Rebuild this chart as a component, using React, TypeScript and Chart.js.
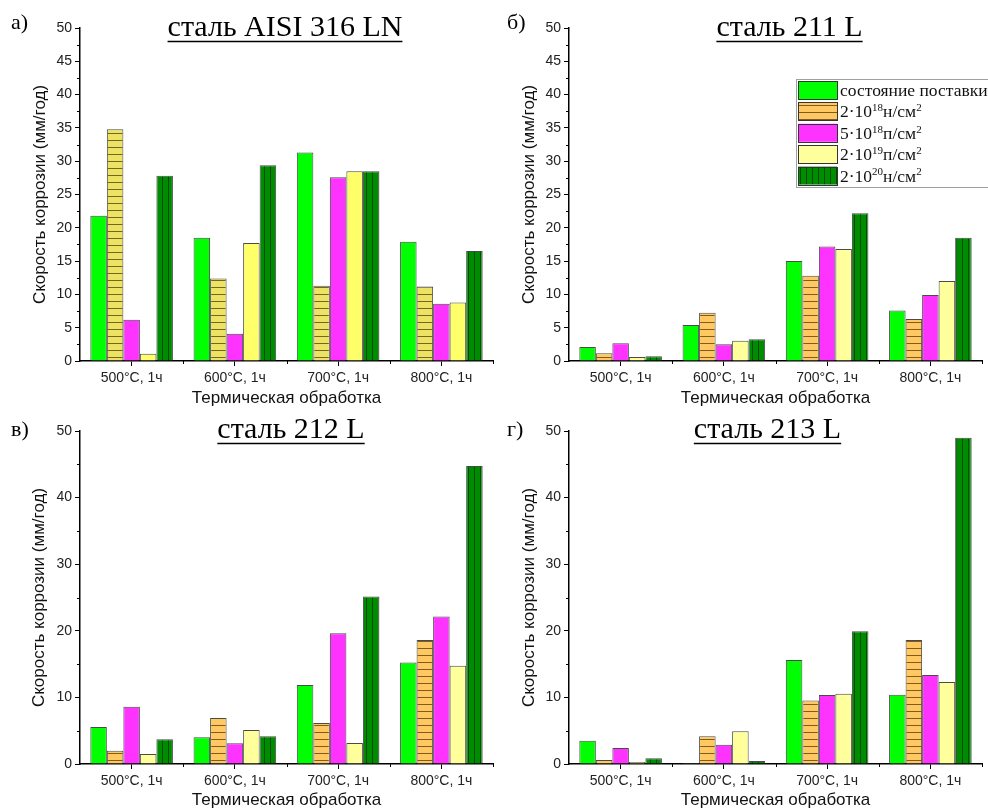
import React, { useEffect, useRef } from 'react';
import { Chart, registerables } from 'chart.js';

Chart.register(...registerables);

// ---------- data ----------
const categories = ['500°C, 1ч', '600°C, 1ч', '700°C, 1ч', '800°C, 1ч'];
const seriesLabels = [
  'состояние поставки',
  '2·10{18}н/см{2}',
  '5·10{18}п/см{2}',
  '2·10{19}п/см{2}',
  '2·10{20}н/см{2}',
];
const yTicksStep5 = [0, 5, 10, 15, 20, 25, 30, 35, 40, 45, 50];
const yTicksStep10 = [0, 10, 20, 30, 40, 50];

// а) сталь AISI 316 LN
const a_asDelivered = [21.8, 18.5, 31.3, 17.9];
const a_2e18 = [34.8, 12.4, 11.3, 11.2];
const a_5e18 = [6.2, 4.1, 27.6, 8.6];
const a_2e19 = [1.1, 17.7, 28.5, 8.8];
const a_2e20 = [27.8, 29.4, 28.5, 16.5];

// б) сталь 211 L
const b_asDelivered = [2.1, 5.4, 15.0, 7.6];
const b_2e18 = [1.15, 7.25, 12.8, 6.3];
const b_5e18 = [2.65, 2.5, 17.2, 9.9];
const b_2e19 = [0.6, 3.05, 16.8, 12.0];
const b_2e20 = [0.7, 3.25, 22.2, 18.5];

// в) сталь 212 L
const v_asDelivered = [5.55, 4.0, 11.85, 15.25];
const v_2e18 = [2.0, 6.9, 6.15, 18.6];
const v_5e18 = [8.6, 3.1, 19.65, 22.15];
const v_2e19 = [1.5, 5.1, 3.15, 14.75];
const v_2e20 = [3.7, 4.15, 25.15, 44.75];

// г) сталь 213 L
const g_asDelivered = [3.5, 0.15, 15.6, 10.4];
const g_2e18 = [0.6, 4.15, 9.55, 18.6];
const g_5e18 = [2.4, 2.9, 10.35, 13.35];
const g_2e19 = [0.3, 4.9, 10.55, 12.3];
const g_2e20 = [0.85, 0.45, 19.95, 49.0];

// ---------- styles ----------
const SANS = '"Liberation Sans", Arial, sans-serif';
const SERIF = '"Liberation Serif", "Times New Roman", serif';

function hatchH(bg: string, line: string, period: number) {
  const c = document.createElement('canvas');
  c.width = 8;
  c.height = period;
  const x = c.getContext('2d')!;
  x.fillStyle = bg;
  x.fillRect(0, 0, 8, period);
  x.fillStyle = line;
  x.fillRect(0, 0, 8, 1);
  return x.createPattern(c, 'repeat')!;
}
function hatchV(bg: string, line: string, period: number) {
  const c = document.createElement('canvas');
  c.width = period;
  c.height = 8;
  const x = c.getContext('2d')!;
  x.fillStyle = bg;
  x.fillRect(0, 0, period, 8);
  x.fillStyle = line;
  x.fillRect(0, 0, 1, 8);
  return x.createPattern(c, 'repeat')!;
}

type Panel = {
  key: string;
  letter: string;
  title: string;
  left: number;
  top: number;
  width: number;
  height: number;
  yWidth: number;
  padTop: number;
  padRight: number;
  xHeight: number;
  yTitlePad: number;
  xTitlePad: number;
  titleX: number;
  titleBaseline: number;
  letterX: number;
  letterBaseline: number;
  yTicks: number[];
  minorStep: number;
  series: number[][];
  c2e18: string;
  c2e19: string;
  legend: boolean;
};

const panels: Panel[] = [
  {
    key: 'a', letter: 'а)', title: 'сталь AISI 316 LN',
    left: 0, top: 0, width: 500, height: 410,
    yWidth: 80, padTop: 28, padRight: 7, xHeight: 49, yTitlePad: 31.5, xTitlePad: 3.5,
    titleX: 285, titleBaseline: 36, letterX: 11, letterBaseline: 29,
    yTicks: yTicksStep5, minorStep: 2.5,
    series: [a_asDelivered, a_2e18, a_5e18, a_2e19, a_2e20],
    c2e18: '#ece364', c2e19: '#ffff6a', legend: false,
  },
  {
    key: 'b', letter: 'б)', title: 'сталь 211 L',
    left: 500, top: 0, width: 488, height: 410,
    yWidth: 69, padTop: 28, padRight: 6, xHeight: 49, yTitlePad: 20.5, xTitlePad: 3.5,
    titleX: 289.5, titleBaseline: 36, letterX: 7, letterBaseline: 29,
    yTicks: yTicksStep5, minorStep: 2.5,
    series: [b_asDelivered, b_2e18, b_5e18, b_2e19, b_2e20],
    c2e18: '#ffc862', c2e19: '#ffff9c', legend: true,
  },
  {
    key: 'v', letter: 'в)', title: 'сталь 212 L',
    left: 0, top: 410, width: 500, height: 399,
    yWidth: 80, padTop: 21, padRight: 7, xHeight: 45, yTitlePad: 30.5, xTitlePad: 0,
    titleX: 291, titleBaseline: 28, letterX: 11, letterBaseline: 26,
    yTicks: yTicksStep10, minorStep: 5,
    series: [v_asDelivered, v_2e18, v_5e18, v_2e19, v_2e20],
    c2e18: '#ffc862', c2e19: '#ffff9c', legend: false,
  },
  {
    key: 'g', letter: 'г)', title: 'сталь 213 L',
    left: 500, top: 410, width: 488, height: 399,
    yWidth: 69, padTop: 21, padRight: 6, xHeight: 45, yTitlePad: 20.5, xTitlePad: 0,
    titleX: 267.5, titleBaseline: 28, letterX: 7, letterBaseline: 26,
    yTicks: yTicksStep10, minorStep: 5,
    series: [g_asDelivered, g_2e18, g_5e18, g_2e19, g_2e20],
    c2e18: '#ffc862', c2e19: '#ffff9c', legend: false,
  },
];

function drawRich(ctx: CanvasRenderingContext2D, text: string, x: number, y: number, size: number) {
  const parts = text.split(/(\{[^}]*\})/);
  let cx = x;
  ctx.textAlign = 'left';
  ctx.textBaseline = 'alphabetic';
  for (const part of parts) {
    if (!part) continue;
    if (part.startsWith('{')) {
      const t = part.slice(1, -1);
      ctx.font = `${Math.round(size * 0.62)}px ${SERIF}`;
      ctx.fillText(t, cx, y - size * 0.36);
      cx += ctx.measureText(t).width;
    } else {
      ctx.font = `${size}px ${SERIF}`;
      ctx.fillText(part, cx, y);
      cx += ctx.measureText(part).width;
    }
  }
}

function makeDecor(p: Panel) {
  return {
    id: 'decor_' + p.key,
    afterDraw(chart: any) {
      const ctx: CanvasRenderingContext2D = chart.ctx;
      const xs = chart.scales.x;
      const ys = chart.scales.y;
      ctx.save();
      ctx.strokeStyle = '#000';
      ctx.lineWidth = 1;
      // minor y ticks
      for (let v = p.minorStep; v < 50; v += p.minorStep * 2) {
        const py = Math.round(ys.getPixelForValue(v)) + 0.5;
        ctx.beginPath();
        ctx.moveTo(ys.right - 3, py);
        ctx.lineTo(ys.right, py);
        ctx.stroke();
      }
      // category boundary ticks
      const n = categories.length;
      const w = (xs.right - xs.left) / n;
      for (let k = 1; k <= n; k++) {
        const px = Math.round(xs.left + k * w) + 0.5;
        ctx.beginPath();
        ctx.moveTo(px, xs.top);
        ctx.lineTo(px, xs.top + 3);
        ctx.stroke();
      }
      // title with underline
      ctx.fillStyle = '#000';
      ctx.font = `30px ${SERIF}`;
      ctx.textAlign = 'center';
      ctx.textBaseline = 'alphabetic';
      ctx.fillText(p.title, p.titleX, p.titleBaseline);
      const tw = ctx.measureText(p.title).width;
      ctx.lineWidth = 1.5;
      ctx.beginPath();
      ctx.moveTo(p.titleX - tw / 2, p.titleBaseline + 5.5);
      ctx.lineTo(p.titleX + tw / 2, p.titleBaseline + 5.5);
      ctx.stroke();
      // panel letter
      ctx.font = `22px ${SERIF}`;
      ctx.textAlign = 'left';
      ctx.fillText(p.letter, p.letterX, p.letterBaseline);
      // legend
      if (p.legend) {
        const bx = 296, by = 79, bw = 200, bh = 108;
        ctx.fillStyle = '#fff';
        ctx.fillRect(bx, by, bw, bh);
        ctx.strokeStyle = '#a0a0a0';
        ctx.lineWidth = 1;
        ctx.strokeRect(bx + 0.5, by + 0.5, bw, bh);
        const ds = chart.data.datasets;
        for (let i = 0; i < ds.length; i++) {
          const sy = 81 + i * 21.4;
          ctx.fillStyle = ds[i].backgroundColor;
          ctx.fillRect(298, sy, 39, 18);
          ctx.strokeStyle = '#333';
          ctx.strokeRect(298.5, Math.round(sy) + 0.5, 39, 18);
          ctx.fillStyle = '#111';
          drawRich(ctx, seriesLabels[i], 340, sy + 15, 17.5);
        }
      }
      ctx.restore();
    },
  };
}

function PanelChart({ p }: { p: Panel }) {
  const ref = useRef<HTMLCanvasElement | null>(null);
  useEffect(() => {
    if (!ref.current) return;
    const fills = [
      '#00ff00',
      hatchH(p.c2e18, 'rgba(70,45,0,0.7)', 7),
      '#ff33ff',
      p.c2e19,
      hatchV('#008c00', 'rgba(0,55,0,0.75)', 6),
    ];
    const chart = new Chart(ref.current, {
      type: 'bar',
      data: {
        labels: categories,
        datasets: p.series.map((vals, i) => ({
          label: seriesLabels[i].replace(/[{}]/g, ''),
          data: vals,
          backgroundColor: fills[i] as any,
          borderColor: '#4a4a4a',
          borderWidth: 1,
          categoryPercentage: 0.8,
          barPercentage: 1.0,
        })),
      },
      options: {
        animation: false,
        responsive: false,
        devicePixelRatio: 1,
        layout: { padding: { top: p.padTop, right: p.padRight, left: 0, bottom: 0 } },
        plugins: { legend: { display: false }, tooltip: { enabled: false }, title: { display: false } },
        scales: {
          x: {
            type: 'category',
            offset: true,
            grid: {
              display: true, drawOnChartArea: false, drawTicks: true,
              tickLength: 5, tickColor: '#000', tickWidth: 1, offset: false,
            },
            border: { display: true, color: '#000', width: 1.5 },
            ticks: { font: { family: SANS, size: 14 }, color: '#222', padding: 4, maxRotation: 0 },
            title: {
              display: true, text: 'Термическая обработка', color: '#111',
              font: { family: SANS, size: 17, lineHeight: 1 },
              padding: { top: 0, bottom: p.xTitlePad },
            },
            afterFit: (s: any) => { s.height = p.xHeight; },
          },
          y: {
            type: 'linear',
            min: 0,
            max: 50,
            grid: {
              display: true, drawOnChartArea: false, drawTicks: true,
              tickLength: 5, tickColor: '#000', tickWidth: 1,
            },
            border: { display: true, color: '#000', width: 1.5 },
            ticks: { font: { family: SANS, size: 14 }, color: '#222', padding: 3 },
            afterBuildTicks: (s: any) => { s.ticks = p.yTicks.map((v) => ({ value: v })); },
            title: {
              display: true, text: 'Скорость коррозии (мм/год)', color: '#111',
              font: { family: SANS, size: 17, lineHeight: 1 },
              padding: { top: p.yTitlePad, bottom: 0 },
            },
            afterFit: (s: any) => { s.width = p.yWidth; },
          },
        },
      },
      plugins: [makeDecor(p)],
    });
    return () => chart.destroy();
  }, [p]);
  return (
    <canvas
      ref={ref}
      width={p.width}
      height={p.height}
      style={{ position: 'absolute', left: p.left, top: p.top, width: p.width, height: p.height }}
    />
  );
}

export default function App() {
  return (
    <div style={{ position: 'absolute', left: 0, top: 0, width: 988, height: 809, background: '#fff', overflow: 'hidden' }}>
      {panels.map((p) => (
        <PanelChart key={p.key} p={p} />
      ))}
    </div>
  );
}
